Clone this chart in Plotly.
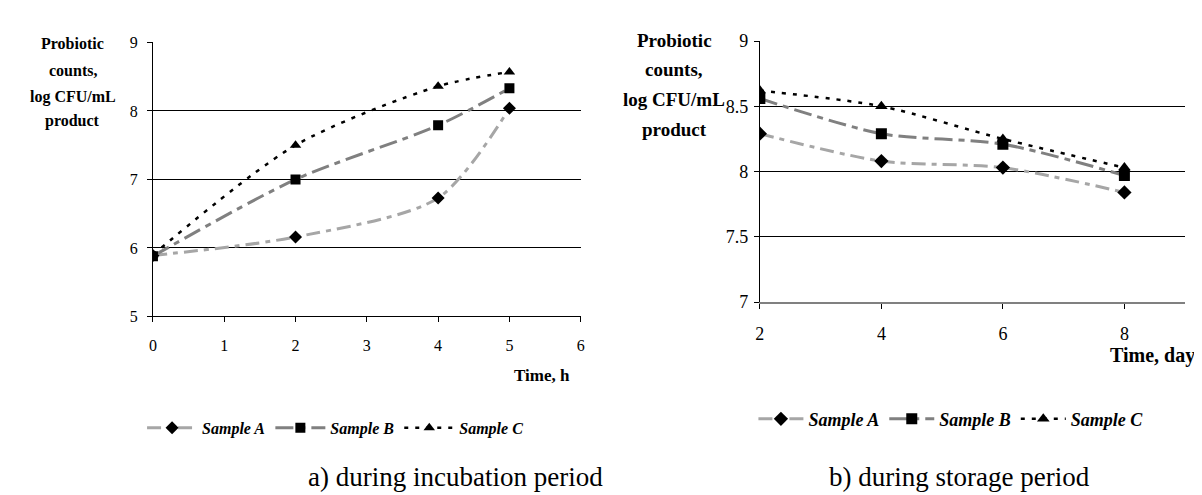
import plotly.graph_objects as go

# ---- data ----
time_h = [0, 2, 4, 5]
incub_A = [5.89, 6.16, 6.73, 8.04]
incub_B = [5.88, 7.00, 7.79, 8.33]
incub_C = [5.90, 7.50, 8.36, 8.57]

time_days = [2, 4, 6, 8]
stor_A = [8.29, 8.08, 8.03, 7.84]
stor_B = [8.56, 8.29, 8.21, 7.97]
stor_C = [8.62, 8.50, 8.25, 8.03]

series_names = ["Sample A", "Sample B", "Sample C"]
left_xticks = [0, 1, 2, 3, 4, 5, 6]
left_yticks = [5, 6, 7, 8, 9]
right_xticks = [2, 4, 6, 8]
right_yticks = [7, 7.5, 8, 8.5, 9]
right_yticklabels = ["7", "7.5", "8", "8.5", "9"]
title_lines = ["Probiotic", "counts,", "log CFU/mL", "product"]

W, H = 1202, 495
FONT = "Liberation Serif"

styles = [
    dict(color="#A6A6A6", width=3, dash="14px,6px,5px,6px", symbol="diamond"),
    dict(color="#808080", width=3, dash="18px,6px,6px,6px", symbol="square"),
    dict(color="#000000", width=2.5, dash="4px,7px", symbol="triangle-up"),
]

fig = go.Figure()

def add_series(x, ys, xa, ya, legend, msize):
    for name, y, st in zip(series_names, ys, styles):
        fig.add_trace(go.Scatter(
            x=x, y=y, xaxis=xa, yaxis=ya, legend=legend,
            name=f"<b><i>{name}</i></b>",
            mode="lines+markers",
            line=dict(color=st["color"], width=st["width"], dash=st["dash"],
                      shape="spline", smoothing=0.8),
            marker=dict(symbol=st["symbol"], color="black", size=msize),
        ))

add_series(time_h, [incub_A, incub_B, incub_C], "x", "y", "legend", 10)
add_series(time_days, [stor_A, stor_B, stor_C], "x2", "y2", "legend2", 11)

def px_x(p):
    return p / W

def px_y(p):
    return 1 - p / H

tf_left = dict(family=FONT, size=16, color="black")
tf_right = dict(family=FONT, size=18, color="black")

fig.update_layout(
    width=W, height=H,
    margin=dict(l=0, r=0, t=0, b=0),
    paper_bgcolor="white", plot_bgcolor="white",
    font=dict(family=FONT, color="black"),
    xaxis=dict(domain=[px_x(141), px_x(572)], range=[0, 6], tickvals=left_xticks,
               showline=True, linecolor="black", linewidth=1, ticks="outside",
               ticklen=5, tickcolor="black", showgrid=False, zeroline=False,
               tickfont=tf_left, ticklabelstandoff=9, anchor="y"),
    yaxis=dict(domain=[px_y(311), px_y(25.5)], range=[5, 9], tickvals=left_yticks,
               showline=True, linecolor="black", linewidth=1, ticks="outside",
               ticklen=5, tickcolor="black", showgrid=True, gridcolor="black",
               gridwidth=1, zeroline=False, tickfont=tf_left, ticklabelstandoff=6,
               anchor="x"),
    xaxis2=dict(domain=[px_x(752.5), px_x(1181)], range=[2, 9], tickvals=right_xticks,
                showline=True, linecolor="#808080", linewidth=2, ticks="outside",
                ticklen=5, tickcolor="black", showgrid=False, zeroline=False,
                tickfont=tf_right, ticklabelstandoff=9, anchor="y2"),
    yaxis2=dict(domain=[px_y(296), px_y(24)], range=[7, 9], tickvals=right_yticks,
                ticktext=right_yticklabels,
                showline=True, linecolor="black", linewidth=1, ticks="outside",
                ticklen=5, tickcolor="black", showgrid=True, gridcolor="black",
                gridwidth=1, zeroline=False, tickfont=tf_right, ticklabelstandoff=2,
                anchor="x2"),
    legend=dict(orientation="h", x=px_x(325), y=px_y(427), xanchor="center",
                yanchor="middle", font=dict(family=FONT, size=16, color="black"),
                itemwidth=50, tracegroupgap=0, bgcolor="rgba(0,0,0,0)"),
    legend2=dict(orientation="h", x=px_x(945), y=px_y(418), xanchor="center",
                 yanchor="middle", font=dict(family=FONT, size=18, color="black"),
                 itemwidth=45, tracegroupgap=0, bgcolor="rgba(0,0,0,0)"),
    showlegend=True,
)

ann = []
# y-axis titles, one annotation per line for exact spacing
for line, yy in zip(title_lines, [27, 55, 82, 107]):
    ann.append(dict(text=f"<b>{line}</b>", x=px_x(60), y=px_y(yy),
                    xanchor="center", yanchor="middle",
                    font=dict(family=FONT, size=16), showarrow=False))
for line, yy in zip(title_lines, [23, 54, 85, 116]):
    ann.append(dict(text=f"<b>{line}</b>", x=px_x(666), y=px_y(yy),
                    xanchor="center", yanchor="middle",
                    font=dict(family=FONT, size=19), showarrow=False))
# x-axis titles
ann.append(dict(text="<b>Time, h</b>", x=px_x(533), y=px_y(373), xanchor="center",
                yanchor="middle", font=dict(family=FONT, size=17), showarrow=False))
ann.append(dict(text="<b>Time, days</b>", x=px_x(1103), y=px_y(352), xanchor="left",
                yanchor="middle", font=dict(family=FONT, size=20), showarrow=False))
# captions
ann.append(dict(text="a) during incubation period", x=px_x(295), y=px_y(478),
                xanchor="left", yanchor="middle", font=dict(family=FONT, size=27),
                showarrow=False))
ann.append(dict(text="b) during storage period", x=px_x(820), y=px_y(478),
                xanchor="left", yanchor="middle", font=dict(family=FONT, size=27),
                showarrow=False))
for a in ann:
    a.update(xref="paper", yref="paper")
fig.update_layout(annotations=ann)

fig.write_html("out.html")
